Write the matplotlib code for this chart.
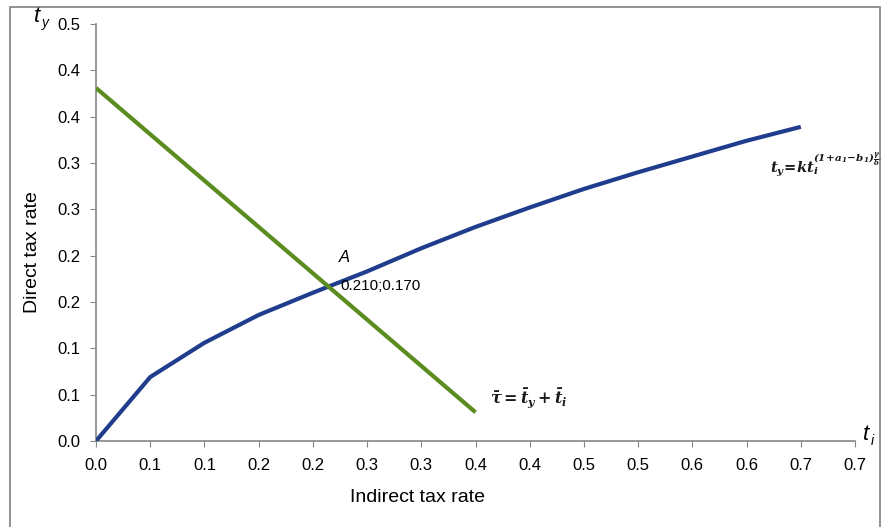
import matplotlib
matplotlib.use("Agg")
import matplotlib.pyplot as plt
from matplotlib.patches import Rectangle

plt.rcParams['font.family'] = ['Liberation Sans', 'DejaVu Sans']
plt.rcParams['mathtext.fontset'] = 'dejavuserif'

# curve t_y = k t_i^(...)
ti = [0.0, 0.05, 0.10, 0.15, 0.20, 0.25, 0.30, 0.35, 0.40, 0.45, 0.50, 0.55, 0.60, 0.65]
ty = [0.0, 0.069, 0.106, 0.136, 0.160, 0.183, 0.208, 0.231, 0.252, 0.272, 0.290, 0.307, 0.324, 0.339]

# budget line
tau_x = [0.0, 0.35]
tau_y = [0.381, 0.031]

point_a = (0.213, 0.168)

xticks = [0.0, 0.05, 0.10, 0.15, 0.20, 0.25, 0.30, 0.35, 0.40, 0.45, 0.50, 0.55, 0.60, 0.65, 0.70]
xlabels = ['0.0', '0.1', '0.1', '0.2', '0.2', '0.3', '0.3', '0.4', '0.4', '0.5', '0.5', '0.6', '0.6', '0.7', '0.7']
yticks = [0.0, 0.05, 0.10, 0.15, 0.20, 0.25, 0.30, 0.35, 0.40, 0.45]
ylabels = ['0.0', '0.1', '0.1', '0.2', '0.2', '0.3', '0.3', '0.4', '0.4', '0.5']

fig = plt.figure(figsize=(8.83, 5.27), dpi=100)
ax = fig.add_axes([96/883, 1-441/527, 759/883, 417/527])

ax.plot(ti, ty, color='#1f3d8c', lw=3, solid_capstyle='butt', zorder=3)
ax.plot(tau_x, tau_y, color='#5b8c1f', lw=3, solid_capstyle='butt', zorder=3)

ax.set_xlim(0, 0.70)
ax.set_ylim(0, 0.45)
ax.set_xticks(xticks)
ax.set_xticklabels(xlabels)
ax.set_yticks(yticks)
ax.set_yticklabels(ylabels)
ax.tick_params(labelsize=12, length=4, color='#868686', direction='out')
ax.tick_params(axis='x', pad=8)
ax.tick_params(axis='y', pad=7)

for s in ['top', 'right']:
    ax.spines[s].set_visible(False)
for s in ['left', 'bottom']:
    ax.spines[s].set_color('#868686')
    ax.spines[s].set_linewidth(1.2)

ax.set_xlabel('Indirect tax rate', fontsize=14)
ax.set_ylabel('Direct tax rate', fontsize=14)
ax.xaxis.set_label_coords(0.423, -0.115)
ax.yaxis.set_label_coords(-0.073, 0.453)

# axis symbols (sans italic like the original)
fig.text(37/883, 1-22/527, 't', fontsize=16, style='italic', ha='center', va='baseline')
fig.text(45/883, 1-27/527, 'y', fontsize=10, style='italic', ha='center', va='baseline')
fig.text(866/883, 1-440/527, 't', fontsize=16, style='italic', ha='center', va='baseline')
fig.text(872/883, 1-445/527, 'i', fontsize=10, style='italic', ha='center', va='baseline')

ax.text(point_a[0] + 0.011, point_a[1] + 0.025, 'A', fontsize=12, style='italic')
ax.text(point_a[0] + 0.012, point_a[1] - 0.001, '0.210;0.170', fontsize=11, va='center')

# curve label: base and exponent drawn separately to keep it compact
ax.text(0.622, 0.290, r'$\mathbfit{t_y\!=\!kt_i}$',
        fontsize=10.5, ha='left', va='baseline', color='#1a1a1a')
ax.text(0.661, 0.301, r'$\mathbfit{(1\!+\!a_1\!-\!b_1)\frac{\gamma}{\delta}}$',
        fontsize=7.5, ha='left', va='baseline', color='#1a1a1a')
ax.text(0.363, 0.046, r'$\mathbfit{\bar{\tau} = \bar{t}_y + \bar{t}_i}$',
        fontsize=11.5, ha='left', va='center', color='#1a1a1a')

fig.patches.append(Rectangle((10/883, -0.05), 870/883, 1.05 - 7/527, transform=fig.transFigure,
                             fill=False, edgecolor='#7f7f7f', lw=1.2))

fig.savefig('out.png', dpi=100)
